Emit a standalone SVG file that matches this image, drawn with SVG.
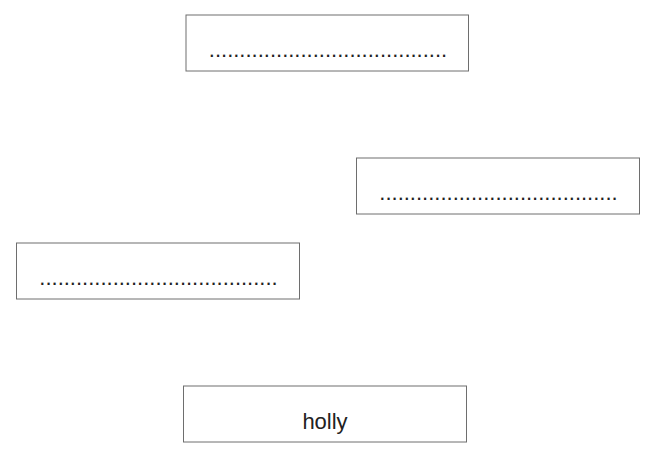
<svg xmlns="http://www.w3.org/2000/svg" width="656" height="459" viewBox="0 0 656 459">
<style>
.box{fill:#ffffff;stroke:#6e6e6e;stroke-width:1}
.t{font-family:"Liberation Sans",Arial,sans-serif;font-size:22px;fill:#222222;text-anchor:middle}
</style>
<rect width="656" height="459" fill="#ffffff"/>
<g id="connectors"></g>
<g id="node1">
<rect class="box" x="186" y="15" width="282.5" height="56"/>
<text class="t" x="328" y="56.5">.......................................</text>
</g>
<g id="node2">
<rect class="box" x="356.5" y="158" width="283" height="56"/>
<text class="t" x="498.5" y="200">.......................................</text>
</g>
<g id="node3">
<rect class="box" x="16.5" y="243" width="283" height="56"/>
<text class="t" x="158.5" y="285">.......................................</text>
</g>
<g id="node4">
<rect class="box" x="183.5" y="386" width="283" height="56"/>
<text class="t" x="325" y="429">holly</text>
</g>
</svg>
